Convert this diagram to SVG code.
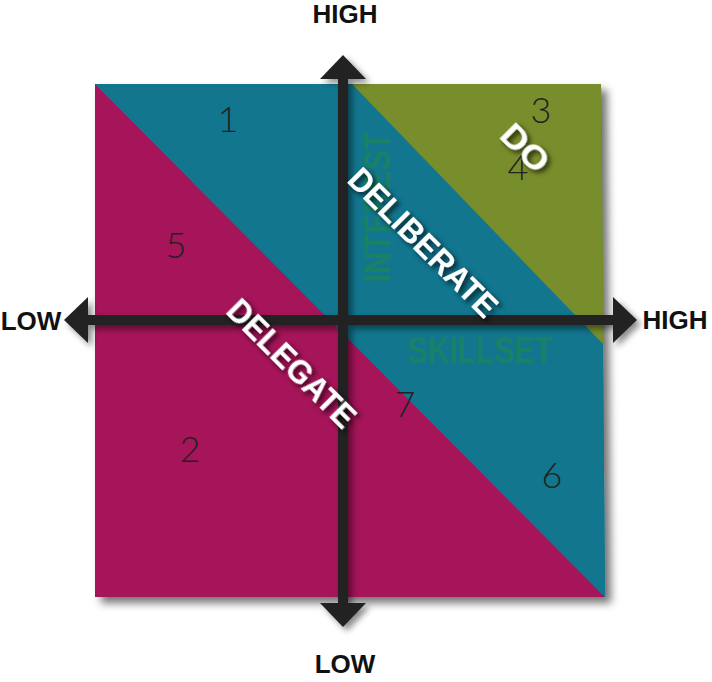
<svg xmlns="http://www.w3.org/2000/svg" width="712" height="682" viewBox="0 0 712 682">
  <defs>
    <style>
      .axis-label { font-family: "Liberation Sans", Arial, sans-serif; font-weight: bold; font-size: 26px; fill: #111; text-anchor: middle; }
      .num { font-family: Lato, "Liberation Sans", sans-serif; font-weight: 300; font-size: 36px; fill: #222; text-anchor: middle; }
      .dim { font-family: "Liberation Sans", Arial, sans-serif; font-weight: bold; font-size: 36px; fill: #1a8068; text-anchor: middle; }
      .zone { font-family: "Liberation Sans", Arial, sans-serif; font-weight: bold; font-size: 33px; fill: #ffffff; text-anchor: middle; }
      .axis { stroke: #222; stroke-width: 10; fill: none; }
    </style>
    <filter id="sqShadow" x="-10%" y="-10%" width="125%" height="125%">
      <feDropShadow dx="6" dy="6" stdDeviation="4" flood-color="#000" flood-opacity="0.55"/>
    </filter>
    <filter id="axShadow" x="-10%" y="-10%" width="125%" height="125%">
      <feDropShadow dx="4" dy="4" stdDeviation="3" flood-color="#000" flood-opacity="0.45"/>
    </filter>
    <filter id="txtShadow" x="-20%" y="-20%" width="150%" height="150%">
      <feDropShadow dx="3" dy="3" stdDeviation="2.5" flood-color="#000" flood-opacity="0.7"/>
    </filter>
    <marker id="head" viewBox="0 0 24 46" refX="0" refY="23" markerWidth="24" markerHeight="46" markerUnits="userSpaceOnUse" orient="auto-start-reverse">
      <path d="M0,0 L24,23 L0,46 Z" fill="#222"/>
    </marker>
  </defs>
  <rect width="712" height="682" fill="#ffffff"/>

  <g id="matrix" filter="url(#sqShadow)">
    <polygon points="95,84 601,84 605,597 95,597" fill="#12768f"/>
  </g>
  <g id="region-delegate">
    <polygon points="95,84 605,597 95,597" fill="#a6145a"/>
  </g>
  <g id="region-deliberate">
    <polygon points="95,84 601,84 605,597" fill="#12768f"/>
  </g>
  <g id="region-do">
    <polygon points="352,84 601,84 604,345" fill="#788e2c"/>
  </g>

  <g id="dimension-labels">
    <text class="dim" transform="translate(390,207) rotate(-90)" textLength="151" lengthAdjust="spacingAndGlyphs">INTEREST</text>
    <text class="dim" x="480" y="363" textLength="145" lengthAdjust="spacingAndGlyphs">SKILLSET</text>
  </g>

  <g id="numbers">
    <text class="num" x="228" y="132">1</text>
    <text class="num" x="190" y="462">2</text>
    <text class="num" x="541" y="123">3</text>
    <text class="num" x="518" y="180">4</text>
    <text class="num" x="176" y="258">5</text>
    <text class="num" x="552" y="488">6</text>
    <text class="num" x="405" y="417">7</text>
  </g>

  <g id="connectors" filter="url(#axShadow)">
    <line class="axis" x1="343" y1="603" x2="343" y2="79" marker-start="url(#head)" marker-end="url(#head)"/>
    <line class="axis" x1="88" y1="320" x2="613" y2="320" marker-start="url(#head)" marker-end="url(#head)"/>
  </g>

  <g id="axis-labels">
    <text class="axis-label" x="345" y="23">HIGH</text>
    <text class="axis-label" x="345" y="673">LOW</text>
    <text class="axis-label" x="31" y="330">LOW</text>
    <text class="axis-label" x="675" y="329">HIGH</text>
  </g>

  <g id="zone-labels" filter="url(#txtShadow)">
    <text class="zone" transform="translate(415,250.5) rotate(45)" textLength="196" lengthAdjust="spacingAndGlyphs">DELIBERATE</text>
    <text class="zone" transform="translate(283.5,371.5) rotate(45)" textLength="167" lengthAdjust="spacingAndGlyphs">DELEGATE</text>
    <text class="zone" transform="translate(517,156) rotate(45)" textLength="54" lengthAdjust="spacingAndGlyphs">DO</text>
  </g>
</svg>
